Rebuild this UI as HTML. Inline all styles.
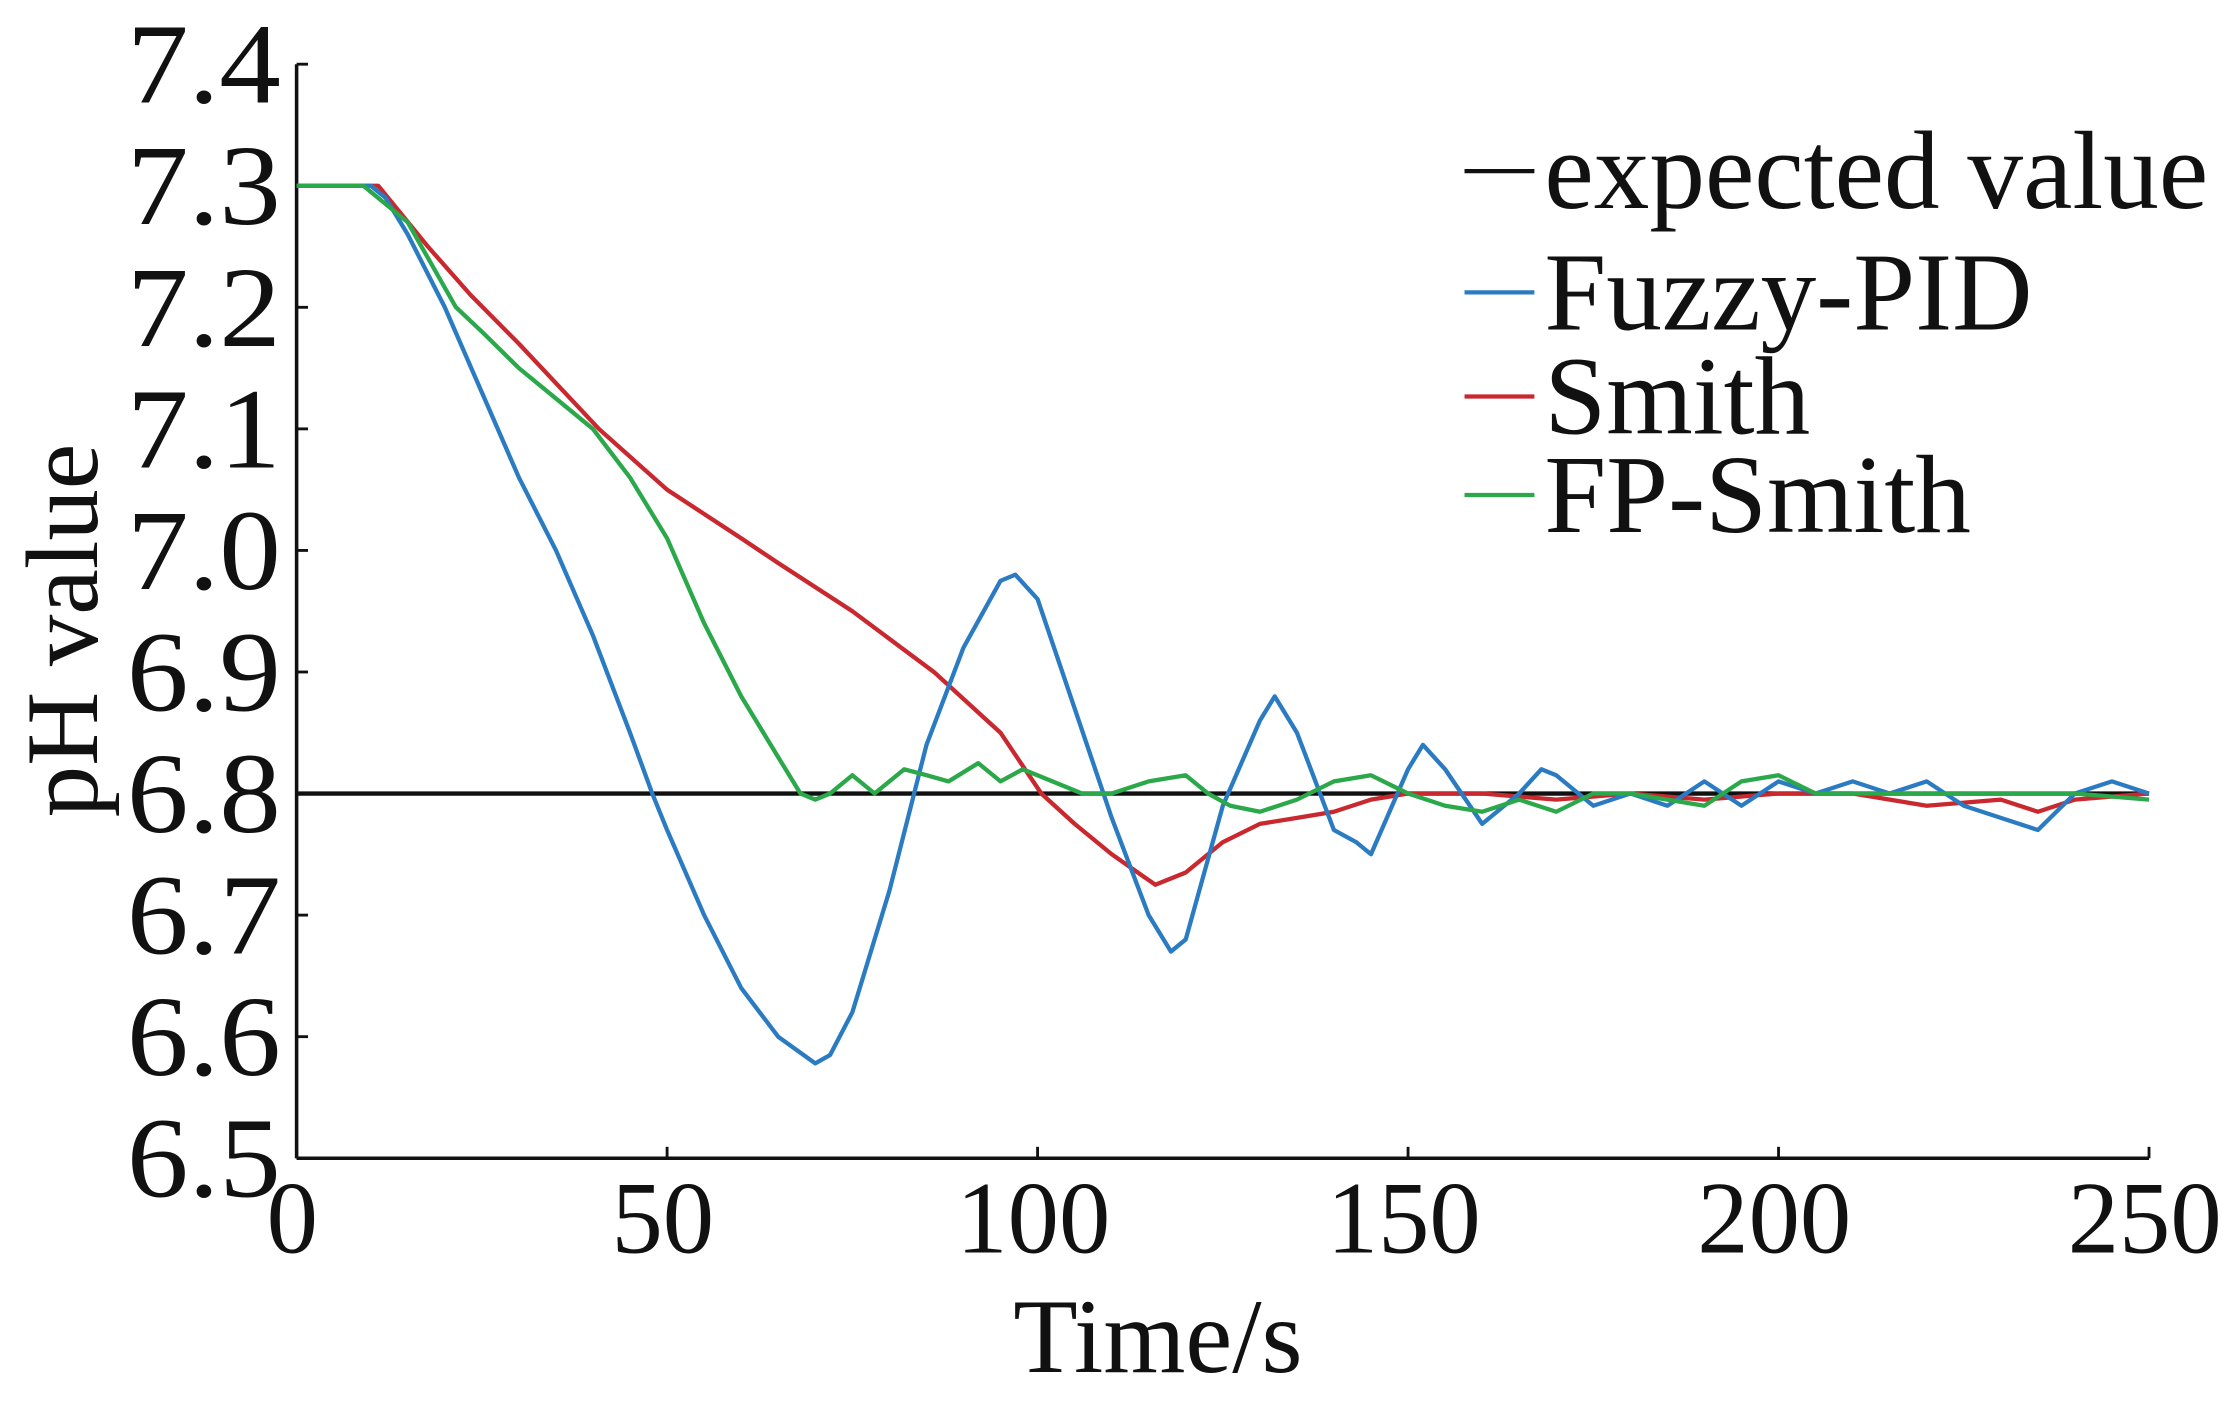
<!DOCTYPE html>
<html><head><meta charset="utf-8"><style>
html,body{margin:0;padding:0;background:#fff;}
svg{display:block;}
text{font-family:"Liberation Serif",serif;fill:#111;}
</style></head><body>
<svg id="chart" width="2236" height="1405" viewBox="0 0 1568 985" preserveAspectRatio="none" xmlns="http://www.w3.org/2000/svg">
<g id="axes"></g>
<g id="series"></g>
<g id="legend"></g>
</svg>
<script>
const xTicks=[0,50,100,150,200,250];
const yTicks=[6.5,6.6,6.7,6.8,6.9,7.0,7.1,7.2,7.3,7.4];
const expectedValue=6.8;
const fuzzyT=[0,5,10,12,15,20,25,30,35,40,45,48,50,55,60,65,70,72,75,80,85,90,95,97,100,105,110,115,118,120,125,130,132,135,140,143,145,150,152,155,160,165,168,170,175,180,185,190,195,200,205,210,215,220,225,230,235,240,245,250];
const fuzzyV=[7.30,7.30,7.30,7.29,7.26,7.20,7.13,7.06,7.00,6.93,6.85,6.80,6.77,6.70,6.64,6.60,6.578,6.585,6.62,6.72,6.84,6.92,6.975,6.98,6.96,6.87,6.78,6.70,6.67,6.68,6.79,6.86,6.88,6.85,6.77,6.76,6.75,6.82,6.84,6.82,6.775,6.80,6.82,6.815,6.79,6.80,6.79,6.81,6.79,6.81,6.80,6.81,6.80,6.81,6.79,6.78,6.77,6.80,6.81,6.80];
const smithT=[0,5,11,17.7,23.5,30,40.8,50,60,64.9,75,86,95,100.5,105,110,115.9,120,125,130,135,140,145,150,160,170,180,190,200,210,220,230,235,240,250];
const smithV=[7.30,7.30,7.30,7.25,7.21,7.17,7.10,7.05,7.01,6.99,6.95,6.90,6.85,6.80,6.775,6.75,6.725,6.735,6.76,6.775,6.78,6.785,6.795,6.80,6.80,6.795,6.80,6.795,6.80,6.80,6.79,6.795,6.785,6.795,6.80];
const fpT=[0,5,9,15,21.5,25,30,35,40,45,50,55,60,65,68,70,72,75,78,82,85,88,92,95,98,102,106,110,115,120,123,126,130,135,140,145,150,155,160,165,170,175,180,190,195,200,205,210,220,230,240,250];
const fpV=[7.30,7.30,7.30,7.27,7.20,7.18,7.15,7.125,7.10,7.06,7.01,6.94,6.88,6.83,6.80,6.795,6.80,6.815,6.80,6.82,6.815,6.81,6.825,6.81,6.82,6.81,6.80,6.80,6.81,6.815,6.80,6.79,6.785,6.795,6.81,6.815,6.80,6.79,6.785,6.795,6.785,6.80,6.80,6.79,6.81,6.815,6.80,6.80,6.80,6.80,6.80,6.795];
const names=["expected value","Fuzzy-PID","Smith","FP-Smith"];
const colors=["#111111","#2a7bc2","#c8282e","#2aa84a"];

const X0=208,X1=1507,Y0=812,Y1=45;
function sx(t){return X0+(t-0)/(250-0)*(X1-X0);}
function sy(v){return Y0-(v-6.5)/(7.4-6.5)*(Y0-Y1);}
const NS="http://www.w3.org/2000/svg";
function mk(tag,attrs,parent){const e=document.createElementNS(NS,tag);for(const k in attrs)e.setAttribute(k,attrs[k]);parent.appendChild(e);return e;}
const axes=document.getElementById('axes');
const ser=document.getElementById('series');
const leg=document.getElementById('legend');

let yAxis=mk('line',{x1:X0,y1:Y1,x2:X0,y2:Y0,stroke:'#111','stroke-width':2.5},axes);


let xAxis=mk('line',{x1:X0,y1:Y0,x2:X1,y2:Y0,stroke:'#111','stroke-width':2.5},axes);



yTicks.forEach(v=>{
  const y=sy(v);
  const tk=mk('line',{x1:X0,y1:y,x2:X0+8,y2:y,stroke:'#111','stroke-width':2},axes);
  
  
  const t=mk('text',{x:197,y:y+27,'text-anchor':'end','font-size':80,textLength:108,lengthAdjust:'spacingAndGlyphs'},axes);
  t.textContent=v.toFixed(1);
  
  
});
xTicks.forEach(v=>{
  const x=sx(v);
  const tk=mk('line',{x1:x,y1:Y0,x2:x,y2:Y0-8,stroke:'#111','stroke-width':2},axes);
  
  
  const t=mk('text',{x:x-3,y:878,'text-anchor':'middle','font-size':72},axes);
  t.textContent=String(v);
  
  
});
let xt=mk('text',{x:812,y:962,'text-anchor':'middle','font-size':74},axes);
xt.textContent='Time/s';


let yt=mk('text',{x:0,y:0,'text-anchor':'middle','font-size':72,transform:'translate(68,442) rotate(-90)'},axes);
yt.textContent='pH value';



let exp=mk('line',{x1:sx(0),y1:sy(expectedValue),x2:sx(250),y2:sy(expectedValue),stroke:colors[0],'stroke-width':3},ser);


function line(T,V,c,name){
  const d=T.map((t,i)=>(i?'L':'M')+sx(t).toFixed(1)+','+sy(V[i]).toFixed(1)).join(' ');
  const p=mk('path',{d:d,fill:'none',stroke:c,'stroke-width':3,'stroke-linejoin':'round'},ser);
  
  
}
line(smithT,smithV,colors[2],'smith-line');
line(fuzzyT,fuzzyV,colors[1],'fuzzy-pid-line');
line(fpT,fpV,colors[3],'fp-smith-line');

const legY=[120,205,278,347];
names.forEach((n,i)=>{
  const g=mk('g',{},leg);
  
  
  mk('line',{x1:1027,y1:legY[i],x2:1076,y2:legY[i],stroke:colors[i],'stroke-width':3},g);
  const t=mk('text',{x:1083,y:legY[i]+26,'font-size':78},g);
  t.textContent=n;
});
</script>
</body></html>
